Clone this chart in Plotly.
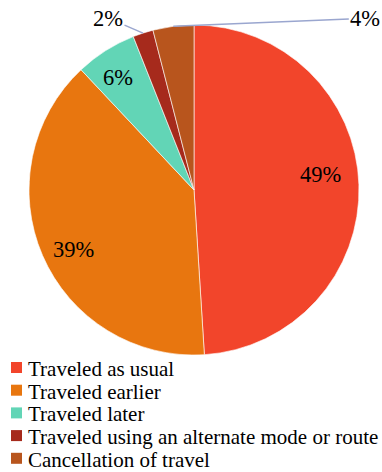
import math
import plotly.graph_objects as go

categories = ["Traveled as usual", "Traveled earlier", "Traveled later",
              "Traveled using an alternate mode or route", "Cancellation of travel"]
values = [49, 39, 6, 2, 4]
label_texts = ["49%", "39%", "6%", "2%", "4%"]
colors = ["#F2452B", "#E8760F", "#62D5B6", "#A62A1C", "#B8551D"]
inside_flags = [True, True, True, False, False]

W, H = 382, 472
cx, cy, R = 194, 190, 165
FONT = "Liberation Serif"

fig = go.Figure(go.Pie(
    labels=categories, values=values, sort=False, direction="clockwise", rotation=0,
    marker=dict(colors=colors, line=dict(color="rgba(255,255,255,0.6)", width=1)),
    textinfo="none", hoverinfo="label+percent", showlegend=False,
    domain=dict(x=[(cx - R) / W, (cx + R) / W], y=[1 - (cy + R) / H, 1 - (cy - R) / H]),
))

total = sum(values)
cum = 0
annotations = []
shapes = []
# inside label placement: (radius fraction, angular nudge in degrees)
inside_place = {0: (0.77, -5), 1: (0.815, -3), 2: (0.825, -1.5)}
outside_offsets = {3: (-35, -15), 4: (192, -8)}
for i, v in enumerate(values):
    mid = (cum + v / 2) / total * 360
    cum += v
    if inside_flags[i]:
        rf, nudge = inside_place[i]
        a = math.radians(mid + nudge)
        px = cx + rf * R * math.sin(a)
        py = cy - rf * R * math.cos(a)
        annotations.append(dict(x=px / W, y=1 - py / H, xref="paper", yref="paper",
                                xanchor="center", yanchor="middle",
                                text=label_texts[i], showarrow=False,
                                font=dict(family=FONT, size=22.5, color="black")))
    else:
        a = math.radians(mid)
        px = cx + R * math.sin(a)
        py = cy - R * math.cos(a)
        ax, ay = outside_offsets[i]
        annotations.append(dict(x=px / W, y=1 - py / H, xref="paper", yref="paper",
                                xanchor="center", yanchor="middle",
                                text=label_texts[i], showarrow=True, arrowhead=0,
                                arrowwidth=1.5, arrowcolor="#9AA6CF", ax=ax, ay=ay,
                                standoff=0, startstandoff=0,
                                font=dict(family=FONT, size=22.5, color="black")))

# legend (drawn as squares + text to match the compact spacing of the original)
leg_top, leg_step, sq = 367.5, 22.7, 11
for i, name in enumerate(categories):
    yc = leg_top + i * leg_step
    shapes.append(dict(type="rect", xref="paper", yref="paper",
                       x0=11 / W, x1=(11 + sq) / W,
                       y0=1 - (yc + sq / 2) / H, y1=1 - (yc - sq / 2) / H,
                       fillcolor=colors[i], line=dict(width=0)))
    annotations.append(dict(x=26 / W, y=1 - (yc + 1.5) / H, xref="paper", yref="paper",
                            xanchor="left", yanchor="middle", text=name, showarrow=False,
                            font=dict(family=FONT, size=21, color="black")))

fig.update_layout(
    width=W, height=H, margin=dict(l=0, r=0, t=0, b=0, autoexpand=False),
    paper_bgcolor="white", plot_bgcolor="white",
    font=dict(family=FONT, color="black"),
    annotations=annotations, shapes=shapes,
    showlegend=False,
)

fig.write_html("out.html", config={"displayModeBar": False},
               post_script="document.body.style.margin='0';document.body.style.overflow='hidden';")
